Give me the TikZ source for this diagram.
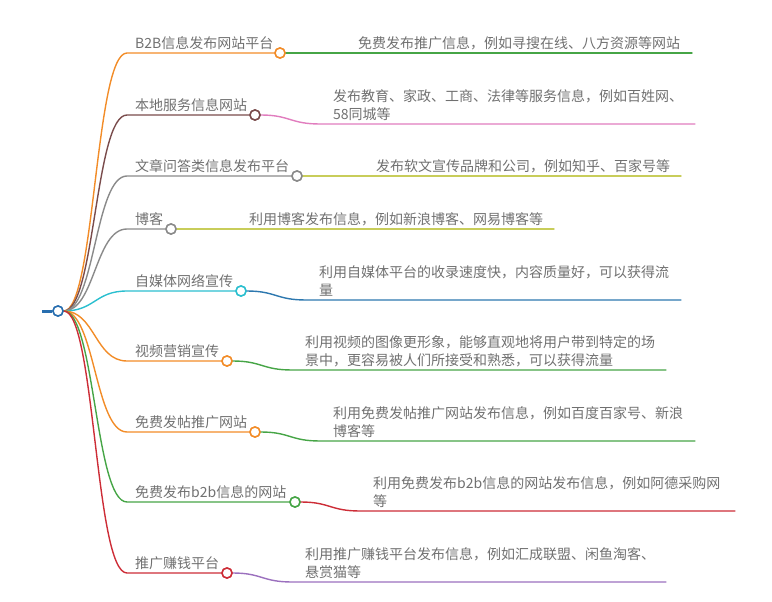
\documentclass[tikz,border=0pt]{standalone}
\usepackage{fontspec}
\setmainfont{Noto Sans CJK SC}
\definecolor{txt}{RGB}{112,112,112}
\definecolor{corange}{RGB}{242,140,40}
\definecolor{cbrown}{RGB}{122,76,76}
\definecolor{cgray}{RGB}{138,138,138}
\definecolor{ccyan}{RGB}{43,191,207}
\definecolor{cgreen}{RGB}{70,165,70}
\definecolor{cred}{RGB}{205,45,55}
\definecolor{cpurple}{RGB}{155,112,190}
\definecolor{cpink}{RGB}{225,125,190}
\definecolor{cyg}{RGB}{200,205,90}
\definecolor{cblue}{RGB}{45,120,175}
\definecolor{croot}{RGB}{40,110,175}
\begin{document}
\begin{tikzpicture}[x=1pt,y=-1pt,
  lab/.style={anchor=base west, inner sep=0pt, text=txt, font=\fontsize{14}{18}\selectfont},
  desc/.style={anchor=base west, inner sep=0pt, text=txt, font=\fontsize{14}{18}\selectfont, align=left},
  dot/.style={circle, draw=#1, fill=white, line width=1.5pt, minimum size=10pt, inner sep=0pt},
  br/.style={draw=#1, line width=1.4pt, line cap=round},
]
\useasboundingbox (0,0) rectangle (772,602);
% root
\coordinate (rs) at (42,311);
\node[dot=croot] (root) at (58,311) {};
% level-1 corners
\coordinate (k1) at (127,53);
\coordinate (k2) at (127,115);
\coordinate (k3) at (127,176);
\coordinate (k4) at (127,229);
\coordinate (k5) at (127,291);
\coordinate (k6) at (127,361);
\coordinate (k7) at (127,432);
\coordinate (k8) at (127,502);
\coordinate (k9) at (127,573);
% child corners and ends
\coordinate (e1) at (692,53);
\coordinate (c2) at (320,124); \coordinate (e2) at (695,124);
\coordinate (e3) at (681,176);
\coordinate (e4) at (554,229);
\coordinate (c5) at (306,300); \coordinate (e5) at (681,300);
\coordinate (c6) at (292,370); \coordinate (e6) at (666,370);
\coordinate (c7) at (320,441); \coordinate (e7) at (695,441);
\coordinate (c8) at (360,511); \coordinate (e8) at (735,511);
\coordinate (c9) at (292,582); \coordinate (e9) at (666,582);
% circles
\path (280,53) node[dot=corange] (b1) {};
\path (255,115) node[dot=cbrown] (b2) {};
\path (297,176) node[dot=cgray] (b3) {};
\path (171,229) node[dot=cgray] (b4) {};
\path (241,291) node[dot=ccyan] (b5) {};
\path (227,361) node[dot=corange] (b6) {};
\path (255,432) node[dot=corange] (b7) {};
\path (295,502) node[dot=cgreen] (b8) {};
\path (227,573) node[dot=cred] (b9) {};
% level-1 branches
\draw[br=croot, line width=3pt, line cap=butt] (rs) -- (root.west);
\draw[br=corange] (root.east) .. controls (95,311) and (95,53) .. (k1) -- (b1.west);
\draw[br=cbrown] (root.east) .. controls (95,311) and (95,115) .. (k2) -- (b2.west);
\draw[br=cgray] (root.east) .. controls (95,311) and (95,176) .. (k3) -- (b3.west);
\draw[br=cgray] (root.east) .. controls (95,311) and (95,229) .. (k4) -- (b4.west);
\draw[br=ccyan] (root.east) .. controls (95,311) and (95,291) .. (k5) -- (b5.west);
\draw[br=corange] (root.east) .. controls (95,311) and (95,361) .. (k6) -- (b6.west);
\draw[br=corange] (root.east) .. controls (95,311) and (95,432) .. (k7) -- (b7.west);
\draw[br=cgreen] (root.east) .. controls (95,311) and (95,502) .. (k8) -- (b8.west);
\draw[br=cred] (root.east) .. controls (95,311) and (95,573) .. (k9) -- (b9.west);
% level-2 connectors
\draw[br=cgreen] (b1.east) -- (e1);
\draw[br=cpink] (b2.east) .. controls (290,115) and (290,124) .. (c2) -- (e2);
\draw[br=cyg] (b3.east) -- (e3);
\draw[br=cyg] (b4.east) -- (e4);
\draw[br=cblue] (b5.east) .. controls (276,291) and (276,300) .. (c5) -- (e5);
\draw[br=cgreen] (b6.east) .. controls (262,361) and (262,370) .. (c6) -- (e6);
\draw[br=cgreen] (b7.east) .. controls (290,432) and (290,441) .. (c7) -- (e7);
\draw[br=cred] (b8.east) .. controls (330,502) and (330,511) .. (c8) -- (e8);
\draw[br=cpurple] (b9.east) .. controls (262,573) and (262,582) .. (c9) -- (e9);
% redraw circles on top
\foreach \n/\c in {root/croot,b1/corange,b2/cbrown,b3/cgray,b4/cgray,b5/ccyan,b6/corange,b7/corange,b8/cgreen,b9/cred}
  \draw[draw=\c, fill=white, line width=1.5pt] (\n.center) circle (5pt);
% labels
\node[lab] (l1) at (135,48.5) {B2B信息发布网站平台};
\node[lab] (l2) at (135,110.5) {本地服务信息网站};
\node[lab] (l3) at (135,171.5) {文章问答类信息发布平台};
\node[lab] (l4) at (135,224.5) {博客};
\node[lab] (l5) at (135,286.5) {自媒体网络宣传};
\node[lab] (l6) at (135,356.5) {视频营销宣传};
\node[lab] (l7) at (135,427.5) {免费发帖推广网站};
\node[lab] (l8) at (135,497.5) {免费发布b2b信息的网站};
\node[lab] (l9) at (135,568.5) {推广赚钱平台};
% descriptions
\node[desc] (d1) at (358,48.5) {免费发布推广信息，例如寻搜在线、八方资源等网站};
\node[desc] (d2) at (333,119.5) {发布教育、家政、工商、法律等服务信息，例如百姓网、\\58同城等};
\node[desc] (d3) at (376,171.5) {发布软文宣传品牌和公司，例如知乎、百家号等};
\node[desc] (d4) at (249,224.5) {利用博客发布信息，例如新浪博客、网易博客等};
\node[desc] (d5) at (319,295.5) {利用自媒体平台的收录速度快，内容质量好，可以获得流\\量};
\node[desc] (d6) at (305,365.5) {利用视频的图像更形象，能够直观地将用户带到特定的场\\景中，更容易被人们所接受和熟悉，可以获得流量};
\node[desc] (d7) at (333,436.5) {利用免费发帖推广网站发布信息，例如百度百家号、新浪\\博客等};
\node[desc] (d8) at (373,506.5) {利用免费发布b2b信息的网站发布信息，例如阿德采购网\\等};
\node[desc] (d9) at (305,577.5) {利用推广赚钱平台发布信息，例如汇成联盟、闲鱼淘客、\\悬赏猫等};
\end{tikzpicture}
\end{document}
